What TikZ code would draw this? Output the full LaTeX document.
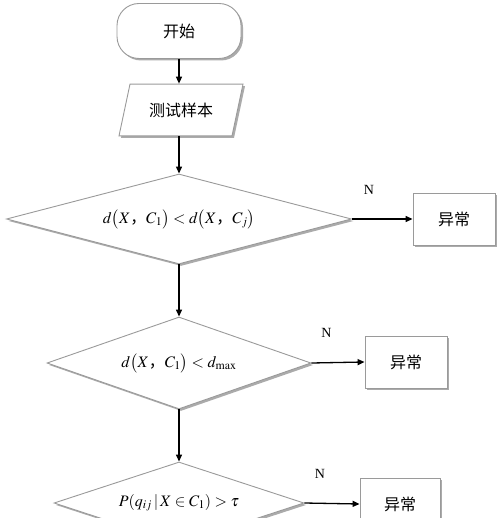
\documentclass[tikz,border=0pt]{standalone}
\usepackage{amsmath}
\usepackage{mathptmx}
\usepackage{fontspec}
\setmainfont{Liberation Serif}
\newfontfamily\cjk{Noto Sans CJK SC}
\usetikzlibrary{positioning, arrows.meta, shapes.geometric, shadows}
\definecolor{edgeGray}{HTML}{9A9A9A}
\definecolor{shadeGray}{HTML}{ABABAB}
\newcommand{\zcomma}{\mbox{\cjk ，}}

\begin{document}
\begin{tikzpicture}[
    x=1pt, y=-1pt,
    box/.style={draw=edgeGray, fill=white, line width=0.9pt,
      drop shadow={shadow xshift=2pt, shadow yshift=-2pt, fill=shadeGray, opacity=1}},
    term/.style={box, rounded corners=22pt, minimum width=124pt, minimum height=55pt, font=\cjk\fontsize{16}{19}\selectfont},
    io/.style={box, trapezium, trapezium left angle=78, trapezium right angle=102,
      inner xsep=19pt, inner ysep=18.5pt, font=\cjk\fontsize{16}{19}\selectfont},
    cond/.style={box, diamond, inner sep=0pt, font=\fontsize{16}{19}\selectfont},
    proc/.style={box, minimum width=82pt, minimum height=52pt, font=\cjk\fontsize{16}{19}\selectfont},
    arr/.style={-{Triangle[length=7pt, width=6pt]}, line width=1.3pt, black},
    lbl/.style={font=\fontsize{14}{16}\selectfont},
  ]
    \useasboundingbox (0,0) rectangle (500,518);
    \clip (0,0) rectangle (500,518);

    % main column
    \node[term] (start) at (179,31) {开始};
    \node[io] (io) at (181,110) {测试样本};
    \node[cond, aspect=3.83, minimum width=345pt, minimum height=90pt] (c1) at (179,219)
      {$d\bigl(X\zcomma C_1\bigr)<d\bigl(X\zcomma C_j\bigr)$};
    \node[cond, aspect=2.87, minimum width=264pt, minimum height=92pt] (c2) at (179,363)
      {$d\bigl(X\zcomma C_1\bigr)<d_{\max}$};
    \node[cond, aspect=3.05, minimum width=250pt, minimum height=82pt] (c3) at (179,503)
      {$P(q_{ij}\,|\,X\in C_1)>\tau$};

    % abnormal exits
    \node[proc] (e1) at (454,219) {异常};
    \node[proc] (e2) at (406,362) {异常};
    \node[proc, minimum width=80pt] (e3) at (400,504) {异常};

    \draw[arr] (start) -- (start |- io.north);
    \draw[arr] (io.south -| start) -- (c1);
    \foreach \a/\b in {c1/c2, c2/c3}
      \draw[arr] (\a) -- (\b);
    \foreach \i in {1,2,3}
      \draw[arr] (c\i.east) -- node[lbl, pos=0.28, above=21pt] (n\i) {N} (e\i.west);
  \end{tikzpicture}
\end{document}
